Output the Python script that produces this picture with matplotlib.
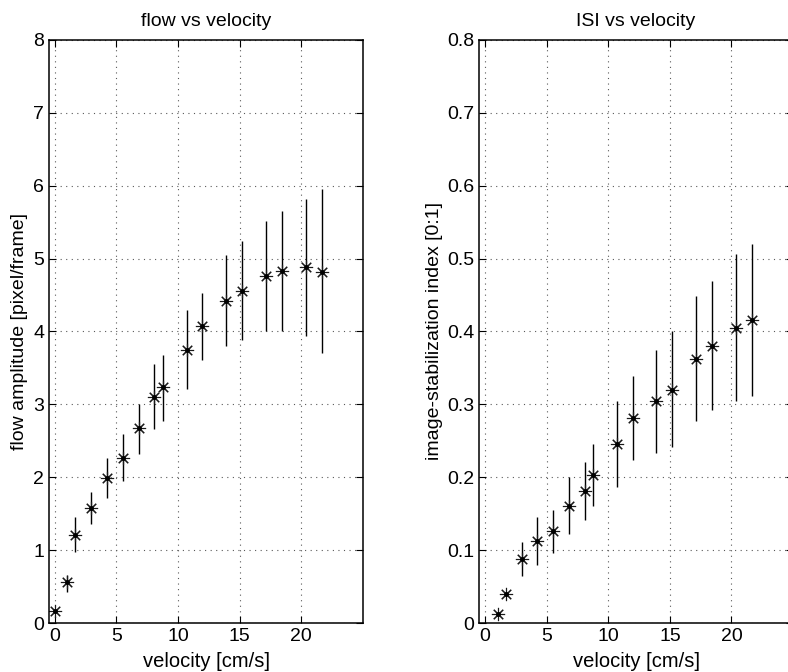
import matplotlib
matplotlib.use('Agg')
import matplotlib.pyplot as plt
import numpy as np

plt.rcParams['font.family'] = ['Liberation Sans', 'DejaVu Sans']
plt.rcParams['font.size'] = 14

# velocity [cm/s] for each measurement
velocity = [0.0, 1.02, 1.65, 2.95, 4.21, 5.52, 6.81, 8.08, 8.76, 10.7, 11.98,
            13.9, 15.2, 17.1, 18.43, 20.38, 21.65]

# flow amplitude (mean, lower end, upper end of bar)
flow = [0.17, 0.56, 1.21, 1.58, 1.99, 2.27, 2.67, 3.10, 3.24, 3.74, 4.07,
        4.42, 4.56, 4.76, 4.83, 4.88, 4.82]
flow_lo = [0.17, 0.43, 0.97, 1.36, 1.72, 1.95, 2.32, 2.66, 2.77, 3.21, 3.61,
           3.80, 3.89, 4.01, 4.01, 3.94, 3.70]
flow_hi = [0.17, 0.66, 1.45, 1.80, 2.27, 2.60, 3.00, 3.55, 3.68, 4.29, 4.53,
           5.05, 5.24, 5.51, 5.65, 5.82, 5.96]

# image-stabilization index (no value at velocity 0)
isi = [0.013, 0.040, 0.088, 0.113, 0.126, 0.160, 0.181, 0.203, 0.245, 0.281,
       0.304, 0.320, 0.362, 0.380, 0.405, 0.416]
isi_lo = [0.013, 0.040, 0.065, 0.080, 0.096, 0.122, 0.141, 0.161, 0.186, 0.224,
          0.233, 0.241, 0.277, 0.292, 0.305, 0.311]
isi_hi = [0.013, 0.040, 0.111, 0.145, 0.155, 0.200, 0.221, 0.245, 0.304, 0.339,
          0.375, 0.400, 0.449, 0.469, 0.506, 0.520]

fig = plt.figure(figsize=(7.88, 6.72), dpi=100)
ax1 = fig.add_axes([0.0622, 0.0729, 0.3985, 0.8676])
ax2 = fig.add_axes([0.6079, 0.0729, 0.3985, 0.8676])


def draw(ax, x, y, lo, hi):
    x = np.array(x)
    y = np.array(y)
    err = [y - np.array(lo), np.array(hi) - y]
    ax.errorbar(x, y, yerr=err, fmt='none', ecolor='black', elinewidth=1.0, capsize=0)
    ax.plot(x, y, linestyle='none', marker=(8, 2, 0), markersize=9.5,
            markeredgewidth=0.8, color='0.1')
    ax.plot(x, y, linestyle='none', marker='o', markersize=2.5, color='black')
    ax.grid(True, linestyle=(0, (1, 4)), color='0.35', linewidth=0.8)
    ax.tick_params(direction='in', top=True, right=True, length=5, width=0.8)
    for s in ax.spines.values():
        s.set_linewidth(1.1)
    ax.set_xticks([0, 5, 10, 15, 20])
    ax.set_xlabel('velocity [cm/s]', labelpad=5, fontsize=14.5)


draw(ax1, velocity, flow, flow_lo, flow_hi)
ax1.set_xlim(-0.45, 25)
ax1.set_ylim(0, 8)
ax1.set_yticks(range(9))
ax1.set_ylabel('flow amplitude [pixel/frame]')
ax1.set_title('flow vs velocity', pad=10, fontsize=14)

draw(ax2, velocity[1:], isi, isi_lo, isi_hi)
ax2.set_xlim(-0.5, 25)
ax2.set_ylim(0, 0.8)
ticks = np.arange(9) / 10
ax2.set_yticks(ticks)
ax2.set_yticklabels(['0'] + ['%.1f' % t for t in ticks[1:]])
ax2.set_ylabel('image-stabilization index [0:1]', labelpad=3)
ax2.set_title('ISI vs velocity', pad=10, fontsize=14)

fig.savefig('out.png', dpi=100)
